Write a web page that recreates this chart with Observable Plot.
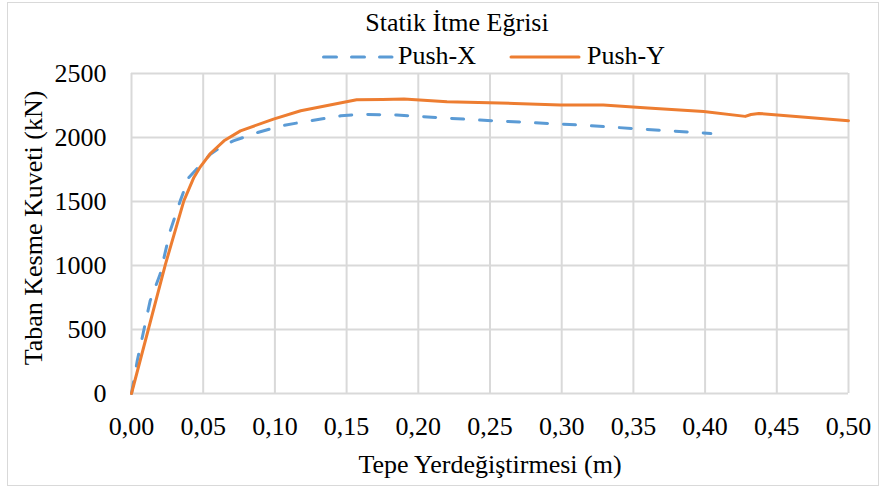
<!DOCTYPE html>
<html>
<head>
<meta charset="utf-8">
<script src="https://cdn.jsdelivr.net/npm/d3@7"></script>
<script src="https://cdn.jsdelivr.net/npm/@observablehq/plot@0.6"></script>
<style>
  html, body { margin: 0; padding: 0; background: #fff; }
  #wrap { position: relative; width: 880px; height: 489px; overflow: hidden; font-family: "Liberation Serif", "Times New Roman", serif; }
  #frame { position: absolute; left: 7px; top: 2px; width: 870px; height: 482px; border: 1.5px solid #d9d9d9; box-sizing: content-box; }
  #chart { position: absolute; left: 0; top: 0; }
  #chart svg, #chart svg text { font-family: "Liberation Serif", "Times New Roman", serif !important; font-size: 26px !important; fill: #000; }
  #overlay { position: absolute; left: 0; top: 0; pointer-events: none; }
</style>
</head>
<body>
<div id="wrap">
  <div id="frame"></div>
  <div id="chart"></div>
  <svg id="overlay" width="880" height="489"></svg>
</div>
<script>
// ---- data ----
const titleText = "Statik İtme Eğrisi";
const xLabel = "Tepe Yerdeğiştirmesi (m)";
const yLabel = "Taban Kesme Kuveti (kN)";
const seriesNames = ["Push-X", "Push-Y"];

const xTicks = [0, 0.05, 0.10, 0.15, 0.20, 0.25, 0.30, 0.35, 0.40, 0.45, 0.50];
const yTicks = [0, 500, 1000, 1500, 2000, 2500];

const pushX_disp = [0, 0.004, 0.013, 0.020, 0.027, 0.034, 0.040, 0.048, 0.055, 0.063, 0.071, 0.088, 0.104, 0.118, 0.146, 0.160, 0.185, 0.243, 0.299, 0.313, 0.350, 0.404];
const pushX_force = [0, 255, 724, 933, 1271, 1505, 1688, 1785, 1870, 1930, 1974, 2039, 2091, 2118, 2170, 2180, 2175, 2136, 2105, 2097, 2070, 2031];

const pushY_disp = [0, 0.0237, 0.0365, 0.0435, 0.048, 0.055, 0.0645, 0.076, 0.099, 0.118, 0.157, 0.175, 0.190, 0.220, 0.267, 0.299, 0.329, 0.360, 0.399, 0.428, 0.432, 0.4375, 0.500];
const pushY_force = [0, 1011, 1505, 1688, 1771, 1875, 1974, 2052, 2144, 2209, 2295, 2297, 2300, 2279, 2266, 2253, 2253, 2230, 2203, 2165, 2180, 2188, 2131];

const colors = ["#5B9BD5", "#ED7D31"];

const pushX = pushX_disp.map((d, i) => ({x: d, y: pushX_force[i]}));
const pushY = pushY_disp.map((d, i) => ({x: d, y: pushY_force[i]}));

const fmtX = d => d.toFixed(2).replace(".", ",");

const chart = Plot.plot({
  width: 880,
  height: 489,
  marginLeft: 131,
  marginRight: 32,
  marginTop: 73,
  marginBottom: 96,
  style: {fontFamily: "'Liberation Serif', 'Times New Roman', serif", fontSize: "26px", color: "#000", background: "transparent", overflow: "visible"},
  x: {domain: [0, 0.5], ticks: xTicks, tickFormat: fmtX, tickSize: 0, tickPadding: 23, label: null},
  y: {domain: [0, 2500], ticks: yTicks, tickFormat: d => String(d), tickSize: 0, tickPadding: 25, label: null},
  marks: [
    Plot.ruleX(xTicks, {stroke: "#d9d9d9", strokeWidth: 2}),
    Plot.ruleY(yTicks, {stroke: "#d9d9d9", strokeWidth: 2}),
    Plot.line(pushX, {x: "x", y: "y", stroke: colors[0], strokeWidth: 3, strokeDasharray: "12,16", strokeLinecap: "round", strokeLinejoin: "round"}),
    Plot.line(pushY, {x: "x", y: "y", stroke: colors[1], strokeWidth: 3, strokeLinecap: "round", strokeLinejoin: "round"})
  ]
});
document.getElementById("chart").appendChild(chart);

// ---- overlay texts: title, legend, axis titles ----
const ov = d3.select("#overlay").style("font-family", "'Liberation Serif', 'Times New Roman', serif").style("font-size", "26px");
ov.append("text").attr("x", 457).attr("y", 31).attr("text-anchor", "middle").attr("fill", "#000").text(titleText);

// legend
ov.append("line").attr("x1", 323.5).attr("x2", 392).attr("y1", 57).attr("y2", 57)
  .attr("stroke", colors[0]).attr("stroke-width", 3).attr("stroke-dasharray", "13,15").attr("stroke-linecap", "round");
ov.append("text").attr("x", 398).attr("y", 64).attr("fill", "#000").text(seriesNames[0]);
ov.append("line").attr("x1", 511).attr("x2", 579).attr("y1", 57).attr("y2", 57)
  .attr("stroke", colors[1]).attr("stroke-width", 3).attr("stroke-linecap", "round");
ov.append("text").attr("x", 587).attr("y", 64).attr("fill", "#000").text(seriesNames[1]);

// axis titles
ov.append("text").attr("x", 490).attr("y", 473).attr("text-anchor", "middle").attr("fill", "#000").text(xLabel);
ov.append("text").attr("transform", "translate(42,228) rotate(-90)").attr("text-anchor", "middle").attr("fill", "#000").text(yLabel);
</script>
</body>
</html>
